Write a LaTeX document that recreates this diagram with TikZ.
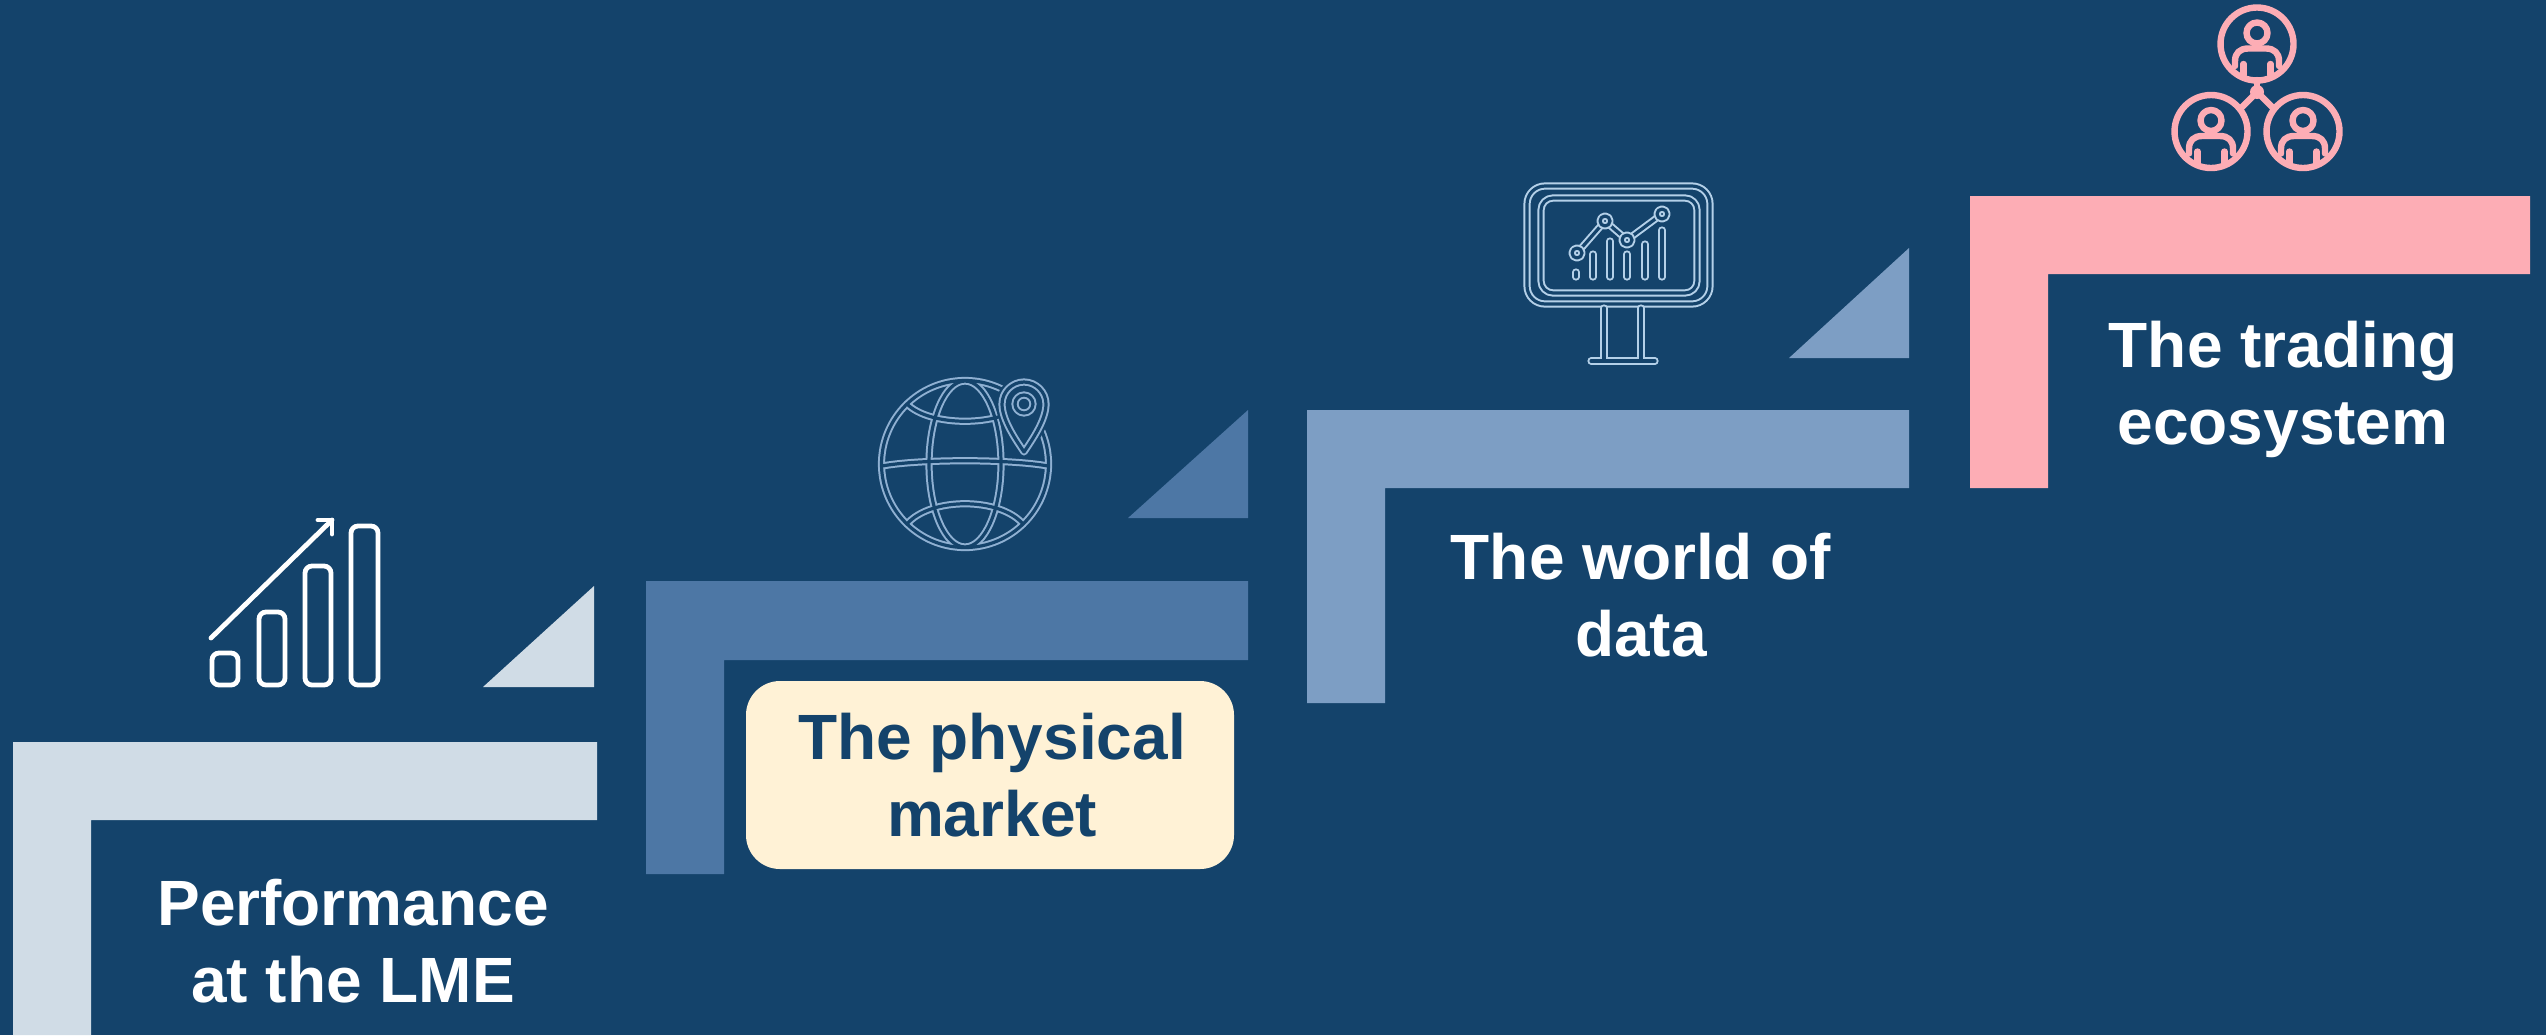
\documentclass[tikz,border=0pt]{standalone}
\usepackage{fontspec}
\setmainfont{Liberation Sans}
\definecolor{bgc}{HTML}{14436B}
\definecolor{stepa}{HTML}{D0DCE6}
\definecolor{stepb}{HTML}{4D77A5}
\definecolor{stepc}{HTML}{7D9EC4}
\definecolor{stepd}{HTML}{FDADB5}
\definecolor{creamc}{HTML}{FFF2D6}
\definecolor{globec}{HTML}{8FB0D2}
\definecolor{monc}{HTML}{B4D0E8}
\tikzset{
  steptext/.style={font=\fontsize{32}{38.5}\selectfont\bfseries,align=center,text=white,inner sep=0pt},
  iconwhite/.style={draw=white,line width=2.4pt,line cap=round,line join=round},
  peopleline/.style={draw=stepd,line width=3.2pt,line cap=round,line join=round},
  outerline/.style={line width=3.6pt,line cap=round,line join=round},
  innerline/.style={line width=1.6pt,line cap=round,line join=round,draw=bgc}
}
\newcommand{\dblpath}[2]{\draw[outerline,draw=#1] #2; \draw[innerline] #2;}
\newcommand{\personicon}[2]{%
  \begin{scope}[shift={(#1,#2)}]
    \draw[peopleline] (0,0) circle [radius=36.5];
    \draw[peopleline] (0,-11) circle [radius=10.5];
    \draw[peopleline] (-22,22) -- (-22,17) .. controls (-22,9) and (-17,4.5) .. (-9,4.5) -- (9,4.5) .. controls (17,4.5) and (22,9) .. (22,17) -- (22,22);
    \draw[peopleline] (-13.5,20) -- (-13.5,31);
    \draw[peopleline] (13.5,20) -- (13.5,31);
  \end{scope}}
\begin{document}
\begin{tikzpicture}[x=0.5pt,y=-0.5pt]
\useasboundingbox (0,0) rectangle (2546,1035);
\fill[bgc] (0,0) rectangle (2546,1035);
% steps
\fill[stepa] (13,742) -- (597,742) -- (597,820) -- (91,820) -- (91,1035) -- (13,1035) -- cycle;
\fill[stepa] (483,687) -- (594,586) -- (594,687) -- cycle;
\fill[stepb] (646,581) -- (1248,581) -- (1248,660) -- (724,660) -- (724,874) -- (646,874) -- cycle;
\fill[stepb] (1128,518) -- (1248,410) -- (1248,518) -- cycle;
\fill[stepc] (1307,410) -- (1909,410) -- (1909,488) -- (1385,488) -- (1385,703) -- (1307,703) -- cycle;
\fill[stepc] (1789,358) -- (1909,248) -- (1909,358) -- cycle;
\fill[stepd] (1970,196) -- (2530,196) -- (2530,274) -- (2048,274) -- (2048,488) -- (1970,488) -- cycle;
\fill[creamc,rounded corners=17pt] (746,681) rectangle (1234,869);
% texts
\node[steptext] (perf) at (353,941) {Performance\\at the LME};
\node[steptext,text=bgc] (phys) at (992,775) {The physical\\market};
\node[steptext] (world) at (1641,595) {The world of\\data};
\node[steptext] (trade) at (2283,389) {The trading\\ecosystem};
% chart icon
\draw[iconwhite,rounded corners=3.5pt] (212,653) rectangle (238,685);
\draw[iconwhite,rounded corners=3.5pt] (259,612) rectangle (285,685);
\draw[iconwhite,rounded corners=3.5pt] (305,566) rectangle (331,685);
\draw[iconwhite,rounded corners=3.5pt] (351,526) rectangle (378,685);
\draw[iconwhite] (211,638) -- (332,520);
\draw[iconwhite] (318,520) -- (332,520) -- (332,534);
% globe icon
\begin{scope}
\def\gA{(965,464) circle [radius=83.5]}
\def\gB{(965,464) ellipse [x radius=36,y radius=83]}
\def\gC{(882,466) .. controls (920,459) and (1010,459) .. (1048,466)}
\def\gD{(907,404) .. controls (930,427) and (1000,427) .. (1023,404)}
\def\gE{(907,524) .. controls (930,497) and (1000,497) .. (1023,524)}
\foreach \p in {\gA,\gB,\gC,\gD,\gE}{\draw[outerline,draw=globec] \p;}
\foreach \p in {\gA,\gB,\gC,\gD,\gE}{\draw[innerline] \p;}
\def\gP{(1024,452) .. controls (1016,440) and (1002,420) .. (1002,404) .. controls (1002,392) and (1012,382) .. (1024,382) .. controls (1036,382) and (1046,392) .. (1046,404) .. controls (1046,420) and (1032,440) .. (1024,452) -- cycle}
\draw[draw=bgc,fill=bgc,line width=6pt,line join=round] \gP;
\dblpath{globec}{\gP}
\dblpath{globec}{(1024,404) circle [radius=9]}
\end{scope}
% monitor icon
\begin{scope}
\draw[outerline,draw=monc,rounded corners=9pt] (1527,186) rectangle (1710,304);
\draw[innerline,rounded corners=9pt] (1527,186) rectangle (1710,304);
\draw[outerline,draw=monc,rounded corners=6pt] (1541,198) rectangle (1697,293);
\draw[innerline,rounded corners=6pt] (1541,198) rectangle (1697,293);
\def\mA{(1604,308) -- (1604,361)}
\def\mB{(1641,308) -- (1641,361)}
\def\mC{(1591,361) -- (1655,361)}
\def\mD{(1577,253) -- (1605,221) -- (1627,240) -- (1662,214)}
\foreach \p in {\mA,\mB,\mC,\mD}{\draw[outerline,draw=monc] \p;}
\foreach \p in {\mA,\mB,\mC,\mD}{\draw[innerline] \p;}
\foreach \cx/\cy in {1577/253,1605/221,1627/240,1662/214}{\draw[fill=bgc,draw=bgc,line width=1pt] (\cx,\cy) circle [radius=6]; \dblpath{monc}{(\cx,\cy) circle [radius=5]}}
\foreach \bx/\bt in {1576/272,1593/254,1610/241,1627/254,1645/244,1662/230}{\dblpath{monc}{(\bx,\bt) -- (\bx,277)}}
\end{scope}
% people icon
\personicon{2257}{44}
\personicon{2211}{131.5}
\personicon{2303}{131.5}
\fill[stepd] (2257,92) circle [radius=7];
\draw[peopleline] (2257,80) -- (2257,92);
\draw[peopleline] (2242,107) -- (2257,92) -- (2272,107);
\end{tikzpicture}
\end{document}
